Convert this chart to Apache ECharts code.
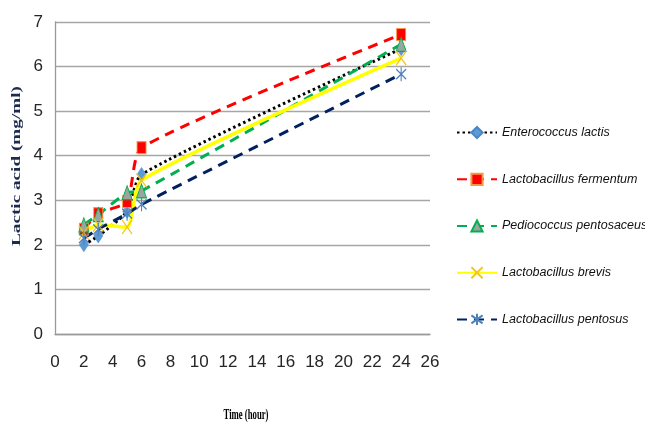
<!DOCTYPE html>
<html>
<head>
<meta charset="utf-8">
<script src="https://cdn.jsdelivr.net/npm/echarts@6/dist/echarts.min.js"></script>
<style>
html,body{margin:0;padding:0;background:#fff;}
#chart{width:645px;height:424px;}
</style>
</head>
<body>
<div id="chart"></div>
<script>
// Data
const hours = [2, 3, 5, 6, 24];
const seriesNames = [
  'Enterococcus lactis',
  'Lactobacillus fermentum',
  'Pediococcus pentosaceus',
  'Lactobacillus brevis',
  'Lactobacillus pentosus'
];
const enterococcusLactis     = [2.00, 2.20, 2.75, 3.58, 6.40];
const lactobacillusFermentum = [2.35, 2.70, 2.97, 4.18, 6.72];
const pediococcusPentosaceus = [2.45, 2.68, 3.17, 3.21, 6.50];
const lactobacillusBrevis    = [2.27, 2.45, 2.40, 3.45, 6.19];
const lactobacillusPentosus  = [2.15, 2.35, 2.70, 2.91, 5.83];
const xTicks = [0, 2, 4, 6, 8, 10, 12, 14, 16, 18, 20, 22, 24, 26];
const yTicks = [0, 1, 2, 3, 4, 5, 6, 7];
const xTitle = 'Time (hour)';
const yTitle = 'Lactic acid (mg/ml)';

const sans = "'Liberation Sans', Arial, sans-serif";
const serif = "'Liberation Serif', 'DejaVu Serif', serif";

function pairs(vals) { return hours.map((h, i) => [h, vals[i]]); }

const xPath = 'path://M0,0L10,14M10,0L0,14';
const starPath = 'path://M5,0L5,14M0,2L10,12M10,2L0,12';

const chart = echarts.init(document.getElementById('chart'), null, {renderer: 'canvas'});
chart.setOption({
  animation: false,
  backgroundColor: '#fff',
  grid: {left: 55, right: 215, top: 22, bottom: 90, containLabel: false},
  xAxis: {
    type: 'value', min: xTicks[0], max: xTicks[xTicks.length - 1], interval: 2,
    axisLine: {show: true, lineStyle: {color: '#9a9a9a', width: 1.3}},
    axisTick: {show: false},
    splitLine: {show: false},
    axisLabel: {fontFamily: sans, fontSize: 17, color: '#262626', margin: 20}
  },
  yAxis: {
    type: 'value', min: yTicks[0], max: yTicks[yTicks.length - 1], interval: 1,
    axisLine: {show: true, lineStyle: {color: '#9a9a9a', width: 1.3}},
    axisTick: {show: false},
    splitLine: {show: true, lineStyle: {color: '#a6a6a6', width: 1.4}},
    axisLabel: {fontFamily: sans, fontSize: 17, color: '#262626', margin: 12}
  },
  legend: {
    orient: 'vertical', left: 451, top: 121,
    itemWidth: 40, itemHeight: 14, itemGap: 33.5,
    textStyle: {fontFamily: sans, fontSize: 12.5, fontStyle: 'italic', color: '#111'},
    data: seriesNames
  },
  graphic: [
    {type: 'text', x: 17, y: 166, rotation: Math.PI / 2, scaleX: 1.6, scaleY: 1,
     style: {text: yTitle, font: 'bold 12px ' + serif, fill: '#1c2b4e', align: 'center', verticalAlign: 'middle'}},
    {type: 'text', x: 246, y: 415, scaleX: 0.87, scaleY: 1.45,
     style: {text: xTitle, font: 'bold 10px ' + serif, fill: '#000', align: 'center', verticalAlign: 'middle'}}
  ],
  series: [
    {name: seriesNames[0], type: 'line', data: pairs(enterococcusLactis), smooth: 0.2,
     symbol: 'diamond', symbolSize: [9, 14],
     itemStyle: {color: '#5B9BD5', borderColor: '#4a86c5', borderWidth: 0.5},
     lineStyle: {color: '#000', width: 3, type: [2.5, 3]}},
    {name: seriesNames[1], type: 'line', data: pairs(lactobacillusFermentum), smooth: 0.2,
     symbol: 'rect', symbolSize: [9, 12],
     itemStyle: {color: '#FF0000', borderColor: '#F79646', borderWidth: 1},
     lineStyle: {color: '#FF0000', width: 3, type: [10, 7]}},
    {name: seriesNames[2], type: 'line', data: pairs(pediococcusPentosaceus), smooth: 0.2,
     symbol: 'triangle', symbolSize: [10, 14],
     itemStyle: {color: '#9aa59f', borderColor: '#00B050', borderWidth: 1},
     lineStyle: {color: '#00B050', width: 3, type: [10, 7]}},
    {name: seriesNames[3], type: 'line', data: pairs(lactobacillusBrevis), smooth: 0.2,
     symbol: xPath, symbolSize: [10, 14],
     itemStyle: {color: 'rgba(0,0,0,0)', borderColor: '#F5C518', borderWidth: 1.3},
     lineStyle: {color: '#FFFF00', width: 3.5, type: 'solid'}},
    {name: seriesNames[4], type: 'line', data: pairs(lactobacillusPentosus), smooth: 0.2,
     symbol: starPath, symbolSize: [10, 14],
     itemStyle: {color: 'rgba(0,0,0,0)', borderColor: '#4F81BD', borderWidth: 1.3},
     lineStyle: {color: '#002060', width: 3, type: [10, 7]}}
  ]
});
</script>
</body>
</html>
